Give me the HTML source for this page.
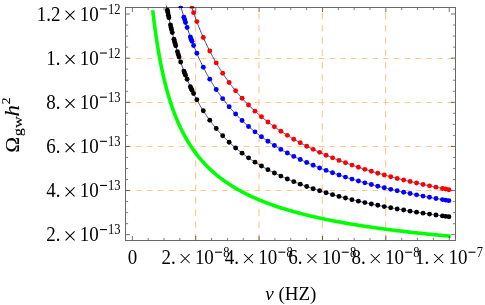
<!DOCTYPE html>
<html><head><meta charset="utf-8"><title>plot</title>
<style>
html,body{margin:0;padding:0;background:#fff;}
body{width:485px;height:305px;overflow:hidden;}
svg{display:block;filter:blur(0.35px);}
text{font-family:"Liberation Serif",serif;fill:#000;}
</style></head><body>
<svg width="485" height="305" viewBox="0 0 485 305">
<rect x="0" y="0" width="485" height="305" fill="#fff"/>
<defs><clipPath id="cp"><rect x="125.50" y="7.50" width="330.00" height="233.00"/></clipPath></defs>
<g stroke="#ffc890" stroke-width="1.15" fill="none">
<line x1="195.60" y1="240.50" x2="195.60" y2="7.50" stroke-dasharray="6.6 5.69"/>
<line x1="259.00" y1="240.50" x2="259.00" y2="7.50" stroke-dasharray="6.6 5.69"/>
<line x1="322.30" y1="240.50" x2="322.30" y2="7.50" stroke-dasharray="6.6 5.69"/>
<line x1="385.60" y1="240.50" x2="385.60" y2="7.50" stroke-dasharray="6.6 5.69"/>
<line x1="125.50" y1="190.50" x2="455.50" y2="190.50" stroke-dasharray="5.5 5.24"/>
<line x1="125.50" y1="146.50" x2="455.50" y2="146.50" stroke-dasharray="5.5 5.24"/>
<line x1="125.50" y1="102.50" x2="455.50" y2="102.50" stroke-dasharray="5.5 5.24"/>
<line x1="125.50" y1="58.50" x2="455.50" y2="58.50" stroke-dasharray="5.5 5.24"/>
</g>
<defs><clipPath id="cpg"><rect x="125.50" y="10.3" width="330.00" height="230.20"/></clipPath></defs>
<g clip-path="url(#cpg)">
<path d="M152.14 5.17 L152.88 11.80 L153.62 18.05 L154.37 23.94 L155.11 29.51 L155.85 34.79 L156.59 39.80 L157.33 44.56 L158.08 49.09 L158.82 53.41 L159.56 57.53 L160.30 61.47 L161.04 65.24 L161.79 68.86 L162.53 72.32 L163.27 75.64 L164.01 78.84 L164.75 81.91 L165.49 84.87 L166.24 87.71 L166.98 90.46 L167.72 93.11 L168.46 95.67 L169.20 98.15 L169.95 100.54 L170.69 102.85 L171.43 105.09 L172.17 107.27 L172.91 109.37 L173.66 111.41 L174.40 113.40 L175.14 115.32 L175.88 117.19 L176.62 119.01 L177.37 120.78 L178.11 122.50 L178.85 124.17 L179.59 125.80 L180.33 127.39 L181.07 128.93 L181.82 130.44 L182.56 131.91 L183.30 133.35 L184.04 134.75 L184.78 136.12 L185.53 137.46 L186.27 138.76 L187.01 140.04 L187.75 141.28 L188.49 142.50 L189.24 143.70 L189.98 144.87 L190.72 146.01 L191.46 147.13 L192.20 148.22 L192.94 149.30 L193.69 150.35 L194.43 151.38 L195.17 152.39 L195.91 153.38 L196.65 154.35 L197.40 155.30 L198.14 156.24 L198.88 157.16 L199.62 158.06 L200.36 158.94 L201.11 159.81 L201.85 160.66 L202.59 161.50 L203.33 162.32 L204.07 163.13 L204.82 163.93 L205.56 164.71 L206.30 165.48 L207.04 166.23 L207.78 166.98 L208.52 167.71 L209.27 168.43 L210.01 169.13 L210.75 169.83 L211.49 170.52 L212.23 171.19 L212.98 171.86 L213.72 172.51 L214.46 173.16 L215.20 173.79 L215.94 174.42 L216.69 175.03 L217.43 175.64 L218.17 176.24 L218.91 176.83 L219.65 177.41 L220.40 177.99 L221.14 178.55 L221.88 179.11 L222.62 179.66 L223.36 180.20 L224.10 180.74 L224.85 181.27 L225.59 181.79 L226.33 182.30 L227.07 182.81 L227.81 183.31 L228.56 183.80 L229.30 184.29 L230.04 184.77 L230.78 185.25 L231.52 185.72 L232.27 186.18 L233.01 186.64 L233.75 187.09 L234.49 187.54 L235.23 187.98 L235.98 188.42 L236.72 188.85 L237.46 189.28 L238.20 189.70 L238.94 190.12 L239.68 190.53 L240.43 190.93 L241.17 191.34 L241.91 191.73 L242.65 192.13 L243.39 192.52 L244.14 192.90 L244.88 193.28 L245.62 193.66 L246.36 194.03 L247.10 194.40 L247.85 194.76 L248.59 195.12 L249.33 195.48 L250.07 195.83 L250.81 196.18 L251.55 196.53 L252.30 196.87 L253.04 197.21 L253.78 197.54 L254.52 197.87 L255.26 198.20 L256.01 198.52 L256.75 198.85 L257.49 199.16 L258.23 199.48 L258.97 199.79 L259.72 200.10 L260.46 200.41 L261.20 200.71 L261.94 201.01 L262.68 201.31 L263.43 201.60 L264.17 201.89 L264.91 202.18 L265.65 202.47 L266.39 202.75 L267.13 203.03 L267.88 203.31 L268.62 203.59 L269.36 203.86 L270.10 204.13 L270.84 204.40 L271.59 204.67 L272.33 204.93 L273.07 205.19 L273.81 205.45 L274.55 205.71 L275.30 205.96 L276.04 206.22 L276.78 206.47 L277.52 206.72 L278.26 206.96 L279.01 207.21 L279.75 207.45 L280.49 207.69 L281.23 207.93 L281.97 208.16 L282.71 208.40 L283.46 208.63 L284.20 208.86 L284.94 209.09 L285.68 209.31 L286.42 209.54 L287.17 209.76 L287.91 209.98 L288.65 210.20 L289.39 210.42 L290.13 210.64 L290.88 210.85 L291.62 211.06 L292.36 211.27 L293.10 211.48 L293.84 211.69 L294.59 211.90 L295.33 212.10 L296.07 212.30 L296.81 212.51 L297.55 212.71 L298.29 212.90 L299.04 213.10 L299.78 213.30 L300.52 213.49 L301.26 213.68 L302.00 213.87 L302.75 214.06 L303.49 214.25 L304.23 214.44 L304.97 214.63 L305.71 214.81 L306.46 214.99 L307.20 215.18 L307.94 215.36 L308.68 215.54 L309.42 215.71 L310.16 215.89 L310.91 216.07 L311.65 216.24 L312.39 216.41 L313.13 216.59 L313.87 216.76 L314.62 216.93 L315.36 217.09 L316.10 217.26 L316.84 217.43 L317.58 217.59 L318.33 217.76 L319.07 217.92 L319.81 218.08 L320.55 218.24 L321.29 218.40 L322.04 218.56 L322.78 218.72 L323.52 218.88 L324.26 219.03 L325.00 219.19 L325.74 219.34 L326.49 219.49 L327.23 219.64 L327.97 219.79 L328.71 219.94 L329.45 220.09 L330.20 220.24 L330.94 220.39 L331.68 220.53 L332.42 220.68 L333.16 220.82 L333.91 220.97 L334.65 221.11 L335.39 221.25 L336.13 221.39 L336.87 221.53 L337.62 221.67 L338.36 221.81 L339.10 221.95 L339.84 222.08 L340.58 222.22 L341.32 222.35 L342.07 222.49 L342.81 222.62 L343.55 222.75 L344.29 222.89 L345.03 223.02 L345.78 223.15 L346.52 223.28 L347.26 223.40 L348.00 223.53 L348.74 223.66 L349.49 223.79 L350.23 223.91 L350.97 224.04 L351.71 224.16 L352.45 224.29 L353.20 224.41 L353.94 224.53 L354.68 224.65 L355.42 224.77 L356.16 224.89 L356.90 225.01 L357.65 225.13 L358.39 225.25 L359.13 225.37 L359.87 225.49 L360.61 225.60 L361.36 225.72 L362.10 225.83 L362.84 225.95 L363.58 226.06 L364.32 226.17 L365.07 226.29 L365.81 226.40 L366.55 226.51 L367.29 226.62 L368.03 226.73 L368.77 226.84 L369.52 226.95 L370.26 227.06 L371.00 227.17 L371.74 227.28 L372.48 227.38 L373.23 227.49 L373.97 227.59 L374.71 227.70 L375.45 227.80 L376.19 227.91 L376.94 228.01 L377.68 228.12 L378.42 228.22 L379.16 228.32 L379.90 228.42 L380.65 228.52 L381.39 228.62 L382.13 228.72 L382.87 228.82 L383.61 228.92 L384.35 229.02 L385.10 229.12 L385.84 229.22 L386.58 229.31 L387.32 229.41 L388.06 229.51 L388.81 229.60 L389.55 229.70 L390.29 229.79 L391.03 229.89 L391.77 229.98 L392.52 230.08 L393.26 230.17 L394.00 230.26 L394.74 230.35 L395.48 230.45 L396.23 230.54 L396.97 230.63 L397.71 230.72 L398.45 230.81 L399.19 230.90 L399.93 230.99 L400.68 231.08 L401.42 231.16 L402.16 231.25 L402.90 231.34 L403.64 231.43 L404.39 231.51 L405.13 231.60 L405.87 231.69 L406.61 231.77 L407.35 231.86 L408.10 231.94 L408.84 232.03 L409.58 232.11 L410.32 232.19 L411.06 232.28 L411.81 232.36 L412.55 232.44 L413.29 232.53 L414.03 232.61 L414.77 232.69 L415.51 232.77 L416.26 232.85 L417.00 232.93 L417.74 233.01 L418.48 233.09 L419.22 233.17 L419.97 233.25 L420.71 233.33 L421.45 233.41 L422.19 233.49 L422.93 233.56 L423.68 233.64 L424.42 233.72 L425.16 233.79 L425.90 233.87 L426.64 233.95 L427.38 234.02 L428.13 234.10 L428.87 234.17 L429.61 234.25 L430.35 234.32 L431.09 234.40 L431.84 234.47 L432.58 234.54 L433.32 234.62 L434.06 234.69 L434.80 234.76 L435.55 234.84 L436.29 234.91 L437.03 234.98 L437.77 235.05 L438.51 235.12 L439.26 235.19 L440.00 235.26 L440.74 235.33 L441.48 235.40 L442.22 235.47 L442.96 235.54 L443.71 235.61 L444.45 235.68 L445.19 235.75 L445.93 235.82 L446.67 235.89 L447.42 235.96 L448.16 236.02 L448.90 236.09" fill="none" stroke="#00ff00" stroke-width="3.6" stroke-linecap="square"/>
</g>
<defs><clipPath id="cp2"><rect x="125.50" y="5.80" width="330.00" height="234.70"/></clipPath></defs>
<g clip-path="url(#cp2)">
<path d="M166.18 3.96 L166.88 7.71 L167.59 11.33 L168.30 14.84 L169.00 18.23 L169.71 21.51 L170.42 24.70 L171.12 27.78 L171.83 30.78 L172.54 33.68 L173.24 36.50 L173.95 39.25 L174.66 41.91 L175.36 44.51 L176.07 47.03 L176.78 49.49 L177.48 51.88 L178.19 54.21 L178.90 56.48 L179.61 58.70 L180.31 60.86 L181.02 62.97 L181.73 65.03 L182.43 67.04 L183.14 69.00 L183.85 70.92 L184.55 72.80 L185.26 74.63 L185.97 76.43 L186.67 78.18 L187.38 79.90 L188.09 81.58 L188.79 83.22 L189.50 84.84 L190.21 86.42 L190.91 87.96 L191.62 89.48 L192.33 90.97 L193.03 92.42 L193.74 93.85 L194.45 95.26 L195.16 96.63 L195.86 97.99 L196.57 99.31 L197.28 100.61 L197.98 101.89 L198.69 103.15 L199.40 104.38 L200.10 105.60 L200.81 106.79 L201.52 107.96 L202.22 109.11 L202.93 110.24 L203.64 111.36 L204.34 112.45 L205.05 113.53 L205.76 114.59 L206.46 115.64 L207.17 116.66 L207.88 117.67 L208.58 118.67 L209.29 119.65 L210.00 120.62 L210.70 121.57 L211.41 122.50 L212.12 123.43 L212.83 124.34 L213.53 125.23 L214.24 126.12 L214.95 126.99 L215.65 127.85 L216.36 128.69 L217.07 129.53 L217.77 130.35 L218.48 131.16 L219.19 131.96 L219.89 132.76 L220.60 133.53 L221.31 134.30 L222.01 135.06 L222.72 135.81 L223.43 136.55 L224.13 137.28 L224.84 138.00 L225.55 138.72 L226.25 139.42 L226.96 140.11 L227.67 140.80 L228.38 141.48 L229.08 142.14 L229.79 142.81 L230.50 143.46 L231.20 144.10 L231.91 144.74 L232.62 145.37 L233.32 145.99 L234.03 146.61 L234.74 147.22 L235.44 147.82 L236.15 148.41 L236.86 149.00 L237.56 149.58 L238.27 150.16 L238.98 150.73 L239.68 151.29 L240.39 151.84 L241.10 152.39 L241.80 152.94 L242.51 153.48 L243.22 154.01 L243.92 154.54 L244.63 155.06 L245.34 155.57 L246.05 156.08 L246.75 156.59 L247.46 157.09 L248.17 157.59 L248.87 158.08 L249.58 158.56 L250.29 159.04 L250.99 159.52 L251.70 159.99 L252.41 160.45 L253.11 160.92 L253.82 161.37 L254.53 161.83 L255.23 162.28 L255.94 162.72 L256.65 163.16 L257.35 163.60 L258.06 164.03 L258.77 164.46 L259.47 164.88 L260.18 165.30 L260.89 165.72 L261.60 166.13 L262.30 166.54 L263.01 166.94 L263.72 167.34 L264.42 167.74 L265.13 168.13 L265.84 168.53 L266.54 168.91 L267.25 169.30 L267.96 169.68 L268.66 170.05 L269.37 170.43 L270.08 170.80 L270.78 171.17 L271.49 171.53 L272.20 171.89 L272.90 172.25 L273.61 172.61 L274.32 172.96 L275.02 173.31 L275.73 173.66 L276.44 174.00 L277.15 174.34 L277.85 174.68 L278.56 175.01 L279.27 175.35 L279.97 175.68 L280.68 176.01 L281.39 176.33 L282.09 176.65 L282.80 176.97 L283.51 177.29 L284.21 177.61 L284.92 177.92 L285.63 178.23 L286.33 178.54 L287.04 178.84 L287.75 179.14 L288.45 179.45 L289.16 179.74 L289.87 180.04 L290.57 180.33 L291.28 180.63 L291.99 180.92 L292.69 181.20 L293.40 181.49 L294.11 181.77 L294.82 182.05 L295.52 182.33 L296.23 182.61 L296.94 182.89 L297.64 183.16 L298.35 183.43 L299.06 183.70 L299.76 183.97 L300.47 184.24 L301.18 184.50 L301.88 184.76 L302.59 185.02 L303.30 185.28 L304.00 185.54 L304.71 185.79 L305.42 186.05 L306.12 186.30 L306.83 186.55 L307.54 186.80 L308.24 187.04 L308.95 187.29 L309.66 187.53 L310.37 187.77 L311.07 188.01 L311.78 188.25 L312.49 188.49 L313.19 188.72 L313.90 188.96 L314.61 189.19 L315.31 189.42 L316.02 189.65 L316.73 189.88 L317.43 190.10 L318.14 190.33 L318.85 190.55 L319.55 190.77 L320.26 190.99 L320.97 191.21 L321.67 191.43 L322.38 191.65 L323.09 191.86 L323.79 192.08 L324.50 192.29 L325.21 192.50 L325.91 192.71 L326.62 192.92 L327.33 193.13 L328.04 193.34 L328.74 193.54 L329.45 193.74 L330.16 193.95 L330.86 194.15 L331.57 194.35 L332.28 194.55 L332.98 194.75 L333.69 194.94 L334.40 195.14 L335.10 195.33 L335.81 195.53 L336.52 195.72 L337.22 195.91 L337.93 196.10 L338.64 196.29 L339.34 196.48 L340.05 196.66 L340.76 196.85 L341.46 197.03 L342.17 197.22 L342.88 197.40 L343.59 197.58 L344.29 197.76 L345.00 197.94 L345.71 198.12 L346.41 198.30 L347.12 198.48 L347.83 198.65 L348.53 198.83 L349.24 199.00 L349.95 199.17 L350.65 199.34 L351.36 199.52 L352.07 199.69 L352.77 199.85 L353.48 200.02 L354.19 200.19 L354.89 200.36 L355.60 200.52 L356.31 200.69 L357.01 200.85 L357.72 201.01 L358.43 201.18 L359.14 201.34 L359.84 201.50 L360.55 201.66 L361.26 201.82 L361.96 201.97 L362.67 202.13 L363.38 202.29 L364.08 202.44 L364.79 202.60 L365.50 202.75 L366.20 202.91 L366.91 203.06 L367.62 203.21 L368.32 203.36 L369.03 203.51 L369.74 203.66 L370.44 203.81 L371.15 203.96 L371.86 204.11 L372.56 204.25 L373.27 204.40 L373.98 204.54 L374.68 204.69 L375.39 204.83 L376.10 204.97 L376.81 205.12 L377.51 205.26 L378.22 205.40 L378.93 205.54 L379.63 205.68 L380.34 205.82 L381.05 205.96 L381.75 206.09 L382.46 206.23 L383.17 206.37 L383.87 206.50 L384.58 206.64 L385.29 206.77 L385.99 206.91 L386.70 207.04 L387.41 207.17 L388.11 207.30 L388.82 207.44 L389.53 207.57 L390.23 207.70 L390.94 207.83 L391.65 207.96 L392.36 208.08 L393.06 208.21 L393.77 208.34 L394.48 208.47 L395.18 208.59 L395.89 208.72 L396.60 208.84 L397.30 208.97 L398.01 209.09 L398.72 209.21 L399.42 209.34 L400.13 209.46 L400.84 209.58 L401.54 209.70 L402.25 209.82 L402.96 209.94 L403.66 210.06 L404.37 210.18 L405.08 210.30 L405.78 210.42 L406.49 210.54 L407.20 210.65 L407.90 210.77 L408.61 210.89 L409.32 211.00 L410.03 211.12 L410.73 211.23 L411.44 211.35 L412.15 211.46 L412.85 211.57 L413.56 211.69 L414.27 211.80 L414.97 211.91 L415.68 212.02 L416.39 212.13 L417.09 212.24 L417.80 212.35 L418.51 212.46 L419.21 212.57 L419.92 212.68 L420.63 212.79 L421.33 212.89 L422.04 213.00 L422.75 213.11 L423.45 213.22 L424.16 213.32 L424.87 213.43 L425.58 213.53 L426.28 213.64 L426.99 213.74 L427.70 213.84 L428.40 213.95 L429.11 214.05 L429.82 214.15 L430.52 214.26 L431.23 214.36 L431.94 214.46 L432.64 214.56 L433.35 214.66 L434.06 214.76 L434.76 214.86 L435.47 214.96 L436.18 215.06 L436.88 215.16 L437.59 215.26 L438.30 215.35 L439.00 215.45 L439.71 215.55 L440.42 215.65 L441.13 215.74 L441.83 215.84 L442.54 215.93 L443.25 216.03 L443.95 216.12 L444.66 216.22 L445.37 216.31 L446.07 216.41 L446.78 216.50 L447.49 216.59 L448.19 216.69 L448.90 216.78" fill="none" stroke="#3d3d99" stroke-width="1"/>
<g fill="#000000"><circle cx="167.36" cy="10.17" r="2.45"/><circle cx="167.81" cy="12.45" r="2.45"/><circle cx="168.36" cy="15.16" r="2.45"/><circle cx="168.91" cy="17.79" r="2.45"/><circle cx="170.46" cy="24.90" r="2.45"/><circle cx="171.04" cy="27.44" r="2.45"/><circle cx="171.56" cy="29.65" r="2.45"/><circle cx="172.27" cy="32.60" r="2.45"/><circle cx="173.95" cy="39.25" r="2.45"/><circle cx="174.53" cy="41.45" r="2.45"/><circle cx="175.12" cy="43.60" r="2.45"/><circle cx="175.70" cy="45.71" r="2.45"/><circle cx="177.44" cy="51.74" r="2.45"/><circle cx="178.25" cy="54.40" r="2.45"/><circle cx="179.06" cy="56.99" r="2.45"/><circle cx="180.67" cy="61.95" r="2.45"/><circle cx="183.91" cy="71.08" r="2.45"/><circle cx="184.71" cy="73.22" r="2.45"/><circle cx="185.52" cy="75.30" r="2.45"/><circle cx="187.14" cy="79.31" r="2.45"/><circle cx="190.37" cy="86.77" r="2.45"/><circle cx="191.18" cy="88.53" r="2.45"/><circle cx="191.99" cy="90.25" r="2.45"/><circle cx="193.60" cy="93.57" r="2.45"/><circle cx="196.83" cy="99.80" r="2.45"/><circle cx="203.30" cy="110.82" r="2.45"/><circle cx="209.76" cy="120.29" r="2.45"/><circle cx="216.22" cy="128.53" r="2.45"/><circle cx="222.69" cy="135.78" r="2.45"/><circle cx="229.15" cy="142.21" r="2.45"/><circle cx="235.61" cy="147.96" r="2.45"/><circle cx="242.08" cy="153.15" r="2.45"/><circle cx="248.54" cy="157.85" r="2.45"/><circle cx="255.00" cy="162.13" r="2.45"/><circle cx="261.47" cy="166.05" r="2.45"/><circle cx="267.93" cy="169.66" r="2.45"/><circle cx="274.39" cy="173.00" r="2.45"/><circle cx="280.86" cy="176.09" r="2.45"/><circle cx="287.32" cy="178.96" r="2.45"/><circle cx="293.78" cy="181.64" r="2.45"/><circle cx="300.24" cy="184.15" r="2.45"/><circle cx="306.71" cy="186.50" r="2.45"/><circle cx="313.17" cy="188.72" r="2.45"/><circle cx="319.63" cy="190.80" r="2.45"/><circle cx="326.10" cy="192.77" r="2.45"/><circle cx="332.56" cy="194.63" r="2.45"/><circle cx="339.02" cy="196.39" r="2.45"/><circle cx="345.49" cy="198.07" r="2.45"/><circle cx="351.95" cy="199.66" r="2.45"/><circle cx="358.41" cy="201.17" r="2.45"/><circle cx="364.88" cy="202.62" r="2.45"/><circle cx="371.34" cy="204.00" r="2.45"/><circle cx="377.80" cy="205.32" r="2.45"/><circle cx="384.27" cy="206.58" r="2.45"/><circle cx="390.73" cy="207.79" r="2.45"/><circle cx="397.19" cy="208.95" r="2.45"/><circle cx="403.66" cy="210.06" r="2.45"/><circle cx="410.12" cy="211.13" r="2.45"/><circle cx="416.58" cy="212.16" r="2.45"/><circle cx="423.05" cy="213.15" r="2.45"/><circle cx="429.51" cy="214.11" r="2.45"/><circle cx="435.97" cy="215.03" r="2.45"/><circle cx="442.44" cy="215.92" r="2.45"/><circle cx="445.67" cy="216.35" r="2.45"/><circle cx="448.90" cy="216.78" r="2.45"/></g>
<path d="M180.23 3.96 L180.90 6.50 L181.57 8.97 L182.25 11.39 L182.92 13.76 L183.59 16.07 L184.26 18.34 L184.93 20.56 L185.60 22.73 L186.28 24.85 L186.95 26.93 L187.62 28.97 L188.29 30.97 L188.96 32.93 L189.63 34.85 L190.31 36.74 L190.98 38.58 L191.65 40.40 L192.32 42.18 L192.99 43.92 L193.66 45.64 L194.34 47.32 L195.01 48.97 L195.68 50.60 L196.35 52.19 L197.02 53.76 L197.69 55.30 L198.37 56.82 L199.04 58.31 L199.71 59.77 L200.38 61.22 L201.05 62.63 L201.72 64.03 L202.40 65.40 L203.07 66.75 L203.74 68.08 L204.41 69.39 L205.08 70.68 L205.75 71.95 L206.43 73.20 L207.10 74.43 L207.77 75.64 L208.44 76.84 L209.11 78.02 L209.78 79.18 L210.46 80.32 L211.13 81.45 L211.80 82.56 L212.47 83.66 L213.14 84.74 L213.81 85.80 L214.49 86.86 L215.16 87.89 L215.83 88.92 L216.50 89.93 L217.17 90.92 L217.84 91.91 L218.52 92.88 L219.19 93.84 L219.86 94.78 L220.53 95.72 L221.20 96.64 L221.87 97.55 L222.55 98.45 L223.22 99.34 L223.89 100.22 L224.56 101.08 L225.23 101.94 L225.90 102.79 L226.58 103.62 L227.25 104.45 L227.92 105.27 L228.59 106.07 L229.26 106.87 L229.93 107.66 L230.61 108.44 L231.28 109.21 L231.95 109.97 L232.62 110.73 L233.29 111.47 L233.96 112.21 L234.64 112.94 L235.31 113.66 L235.98 114.37 L236.65 115.08 L237.32 115.78 L237.99 116.47 L238.67 117.15 L239.34 117.83 L240.01 118.50 L240.68 119.16 L241.35 119.82 L242.02 120.47 L242.70 121.11 L243.37 121.74 L244.04 122.37 L244.71 123.00 L245.38 123.61 L246.05 124.23 L246.73 124.83 L247.40 125.43 L248.07 126.02 L248.74 126.61 L249.41 127.19 L250.08 127.77 L250.76 128.34 L251.43 128.91 L252.10 129.47 L252.77 130.02 L253.44 130.57 L254.11 131.12 L254.79 131.66 L255.46 132.19 L256.13 132.72 L256.80 133.25 L257.47 133.77 L258.14 134.29 L258.82 134.80 L259.49 135.31 L260.16 135.81 L260.83 136.31 L261.50 136.80 L262.17 137.29 L262.85 137.78 L263.52 138.26 L264.19 138.73 L264.86 139.21 L265.53 139.68 L266.20 140.14 L266.88 140.60 L267.55 141.06 L268.22 141.52 L268.89 141.97 L269.56 142.41 L270.24 142.86 L270.91 143.29 L271.58 143.73 L272.25 144.16 L272.92 144.59 L273.59 145.02 L274.27 145.44 L274.94 145.86 L275.61 146.27 L276.28 146.69 L276.95 147.10 L277.62 147.50 L278.30 147.90 L278.97 148.30 L279.64 148.70 L280.31 149.09 L280.98 149.49 L281.65 149.87 L282.33 150.26 L283.00 150.64 L283.67 151.02 L284.34 151.40 L285.01 151.77 L285.68 152.14 L286.36 152.51 L287.03 152.87 L287.70 153.24 L288.37 153.60 L289.04 153.96 L289.71 154.31 L290.39 154.66 L291.06 155.01 L291.73 155.36 L292.40 155.71 L293.07 156.05 L293.74 156.39 L294.42 156.73 L295.09 157.06 L295.76 157.40 L296.43 157.73 L297.10 158.06 L297.77 158.39 L298.45 158.71 L299.12 159.03 L299.79 159.35 L300.46 159.67 L301.13 159.99 L301.80 160.30 L302.48 160.61 L303.15 160.92 L303.82 161.23 L304.49 161.54 L305.16 161.84 L305.83 162.14 L306.51 162.44 L307.18 162.74 L307.85 163.04 L308.52 163.33 L309.19 163.62 L309.86 163.91 L310.54 164.20 L311.21 164.49 L311.88 164.78 L312.55 165.06 L313.22 165.34 L313.89 165.62 L314.57 165.90 L315.24 166.17 L315.91 166.45 L316.58 166.72 L317.25 166.99 L317.92 167.26 L318.60 167.53 L319.27 167.80 L319.94 168.06 L320.61 168.33 L321.28 168.59 L321.95 168.85 L322.63 169.11 L323.30 169.37 L323.97 169.62 L324.64 169.88 L325.31 170.13 L325.98 170.38 L326.66 170.63 L327.33 170.88 L328.00 171.13 L328.67 171.37 L329.34 171.61 L330.01 171.86 L330.69 172.10 L331.36 172.34 L332.03 172.58 L332.70 172.82 L333.37 173.05 L334.04 173.29 L334.72 173.52 L335.39 173.75 L336.06 173.98 L336.73 174.21 L337.40 174.44 L338.07 174.67 L338.75 174.89 L339.42 175.12 L340.09 175.34 L340.76 175.57 L341.43 175.79 L342.10 176.01 L342.78 176.23 L343.45 176.44 L344.12 176.66 L344.79 176.87 L345.46 177.09 L346.13 177.30 L346.81 177.51 L347.48 177.72 L348.15 177.93 L348.82 178.14 L349.49 178.35 L350.16 178.56 L350.84 178.76 L351.51 178.97 L352.18 179.17 L352.85 179.37 L353.52 179.57 L354.19 179.77 L354.87 179.97 L355.54 180.17 L356.21 180.37 L356.88 180.57 L357.55 180.76 L358.22 180.96 L358.90 181.15 L359.57 181.34 L360.24 181.53 L360.91 181.72 L361.58 181.91 L362.25 182.10 L362.93 182.29 L363.60 182.48 L364.27 182.66 L364.94 182.85 L365.61 183.03 L366.28 183.22 L366.96 183.40 L367.63 183.58 L368.30 183.76 L368.97 183.94 L369.64 184.12 L370.31 184.30 L370.99 184.48 L371.66 184.65 L372.33 184.83 L373.00 185.00 L373.67 185.18 L374.34 185.35 L375.02 185.52 L375.69 185.69 L376.36 185.86 L377.03 186.03 L377.70 186.20 L378.37 186.37 L379.05 186.54 L379.72 186.71 L380.39 186.87 L381.06 187.04 L381.73 187.20 L382.40 187.37 L383.08 187.53 L383.75 187.69 L384.42 187.86 L385.09 188.02 L385.76 188.18 L386.43 188.34 L387.11 188.50 L387.78 188.66 L388.45 188.81 L389.12 188.97 L389.79 189.13 L390.46 189.28 L391.14 189.44 L391.81 189.59 L392.48 189.74 L393.15 189.90 L393.82 190.05 L394.49 190.20 L395.17 190.35 L395.84 190.50 L396.51 190.65 L397.18 190.80 L397.85 190.95 L398.52 191.10 L399.20 191.24 L399.87 191.39 L400.54 191.54 L401.21 191.68 L401.88 191.83 L402.55 191.97 L403.23 192.12 L403.90 192.26 L404.57 192.40 L405.24 192.54 L405.91 192.68 L406.58 192.82 L407.26 192.96 L407.93 193.10 L408.60 193.24 L409.27 193.38 L409.94 193.52 L410.61 193.66 L411.29 193.79 L411.96 193.93 L412.63 194.07 L413.30 194.20 L413.97 194.33 L414.64 194.47 L415.32 194.60 L415.99 194.74 L416.66 194.87 L417.33 195.00 L418.00 195.13 L418.67 195.26 L419.35 195.39 L420.02 195.52 L420.69 195.65 L421.36 195.78 L422.03 195.91 L422.70 196.04 L423.38 196.16 L424.05 196.29 L424.72 196.42 L425.39 196.54 L426.06 196.67 L426.73 196.79 L427.41 196.92 L428.08 197.04 L428.75 197.17 L429.42 197.29 L430.09 197.41 L430.76 197.53 L431.44 197.66 L432.11 197.78 L432.78 197.90 L433.45 198.02 L434.12 198.14 L434.79 198.26 L435.47 198.38 L436.14 198.49 L436.81 198.61 L437.48 198.73 L438.15 198.85 L438.82 198.96 L439.50 199.08 L440.17 199.20 L440.84 199.31 L441.51 199.43 L442.18 199.54 L442.85 199.66 L443.53 199.77 L444.20 199.88 L444.87 200.00 L445.54 200.11 L446.21 200.22 L446.88 200.33 L447.56 200.45 L448.23 200.56 L448.90 200.67" fill="none" stroke="#3d3d99" stroke-width="1"/>
<g fill="#0000ff"><circle cx="183.91" cy="17.15" r="2.45"/><circle cx="184.71" cy="19.84" r="2.45"/><circle cx="185.52" cy="22.46" r="2.45"/><circle cx="187.14" cy="27.52" r="2.45"/><circle cx="190.37" cy="36.91" r="2.45"/><circle cx="191.18" cy="39.13" r="2.45"/><circle cx="191.99" cy="41.29" r="2.45"/><circle cx="193.60" cy="45.48" r="2.45"/><circle cx="196.83" cy="53.32" r="2.45"/><circle cx="203.30" cy="67.21" r="2.45"/><circle cx="209.76" cy="79.13" r="2.45"/><circle cx="216.22" cy="89.51" r="2.45"/><circle cx="222.69" cy="98.64" r="2.45"/><circle cx="229.15" cy="106.74" r="2.45"/><circle cx="235.61" cy="113.99" r="2.45"/><circle cx="242.08" cy="120.52" r="2.45"/><circle cx="248.54" cy="126.43" r="2.45"/><circle cx="255.00" cy="131.83" r="2.45"/><circle cx="261.47" cy="136.77" r="2.45"/><circle cx="267.93" cy="141.32" r="2.45"/><circle cx="274.39" cy="145.52" r="2.45"/><circle cx="280.86" cy="149.41" r="2.45"/><circle cx="287.32" cy="153.03" r="2.45"/><circle cx="293.78" cy="156.41" r="2.45"/><circle cx="300.24" cy="159.57" r="2.45"/><circle cx="306.71" cy="162.53" r="2.45"/><circle cx="313.17" cy="165.32" r="2.45"/><circle cx="319.63" cy="167.94" r="2.45"/><circle cx="326.10" cy="170.42" r="2.45"/><circle cx="332.56" cy="172.77" r="2.45"/><circle cx="339.02" cy="174.99" r="2.45"/><circle cx="345.49" cy="177.10" r="2.45"/><circle cx="351.95" cy="179.10" r="2.45"/><circle cx="358.41" cy="181.01" r="2.45"/><circle cx="364.88" cy="182.83" r="2.45"/><circle cx="371.34" cy="184.57" r="2.45"/><circle cx="377.80" cy="186.23" r="2.45"/><circle cx="384.27" cy="187.82" r="2.45"/><circle cx="390.73" cy="189.34" r="2.45"/><circle cx="397.19" cy="190.80" r="2.45"/><circle cx="403.66" cy="192.21" r="2.45"/><circle cx="410.12" cy="193.56" r="2.45"/><circle cx="416.58" cy="194.85" r="2.45"/><circle cx="423.05" cy="196.10" r="2.45"/><circle cx="429.51" cy="197.31" r="2.45"/><circle cx="435.97" cy="198.47" r="2.45"/><circle cx="442.44" cy="199.59" r="2.45"/><circle cx="445.67" cy="200.13" r="2.45"/><circle cx="448.90" cy="200.67" r="2.45"/><path d="M178.25 7.90 A2.45 2.45 0 1 1 183.15 7.90 Z"/></g>
<path d="M190.71 3.96 L191.35 5.97 L192.00 7.93 L192.64 9.87 L193.29 11.76 L193.94 13.63 L194.58 15.46 L195.23 17.26 L195.87 19.03 L196.52 20.78 L197.16 22.49 L197.81 24.17 L198.45 25.83 L199.10 27.46 L199.75 29.06 L200.39 30.64 L201.04 32.20 L201.68 33.73 L202.33 35.23 L202.97 36.72 L203.62 38.18 L204.26 39.62 L204.91 41.03 L205.55 42.43 L206.20 43.81 L206.85 45.16 L207.49 46.50 L208.14 47.82 L208.78 49.12 L209.43 50.40 L210.07 51.67 L210.72 52.91 L211.36 54.14 L212.01 55.36 L212.65 56.55 L213.30 57.73 L213.95 58.90 L214.59 60.05 L215.24 61.18 L215.88 62.31 L216.53 63.41 L217.17 64.50 L217.82 65.58 L218.46 66.65 L219.11 67.70 L219.76 68.74 L220.40 69.77 L221.05 70.78 L221.69 71.78 L222.34 72.77 L222.98 73.75 L223.63 74.71 L224.27 75.67 L224.92 76.61 L225.56 77.55 L226.21 78.47 L226.86 79.38 L227.50 80.28 L228.15 81.17 L228.79 82.06 L229.44 82.93 L230.08 83.79 L230.73 84.64 L231.37 85.49 L232.02 86.32 L232.66 87.15 L233.31 87.96 L233.96 88.77 L234.60 89.57 L235.25 90.36 L235.89 91.15 L236.54 91.92 L237.18 92.69 L237.83 93.45 L238.47 94.20 L239.12 94.94 L239.76 95.68 L240.41 96.41 L241.06 97.13 L241.70 97.84 L242.35 98.55 L242.99 99.25 L243.64 99.95 L244.28 100.63 L244.93 101.32 L245.57 101.99 L246.22 102.66 L246.87 103.32 L247.51 103.98 L248.16 104.62 L248.80 105.27 L249.45 105.91 L250.09 106.54 L250.74 107.16 L251.38 107.78 L252.03 108.40 L252.67 109.01 L253.32 109.61 L253.97 110.21 L254.61 110.80 L255.26 111.39 L255.90 111.98 L256.55 112.55 L257.19 113.13 L257.84 113.69 L258.48 114.26 L259.13 114.82 L259.77 115.37 L260.42 115.92 L261.07 116.46 L261.71 117.00 L262.36 117.54 L263.00 118.07 L263.65 118.60 L264.29 119.12 L264.94 119.64 L265.58 120.15 L266.23 120.66 L266.88 121.17 L267.52 121.67 L268.17 122.17 L268.81 122.66 L269.46 123.15 L270.10 123.64 L270.75 124.12 L271.39 124.60 L272.04 125.07 L272.68 125.54 L273.33 126.01 L273.98 126.48 L274.62 126.94 L275.27 127.39 L275.91 127.85 L276.56 128.30 L277.20 128.75 L277.85 129.19 L278.49 129.63 L279.14 130.07 L279.78 130.50 L280.43 130.93 L281.08 131.36 L281.72 131.78 L282.37 132.21 L283.01 132.63 L283.66 133.04 L284.30 133.45 L284.95 133.86 L285.59 134.27 L286.24 134.67 L286.88 135.08 L287.53 135.47 L288.18 135.87 L288.82 136.26 L289.47 136.65 L290.11 137.04 L290.76 137.43 L291.40 137.81 L292.05 138.19 L292.69 138.57 L293.34 138.94 L293.99 139.31 L294.63 139.68 L295.28 140.05 L295.92 140.42 L296.57 140.78 L297.21 141.14 L297.86 141.50 L298.50 141.85 L299.15 142.21 L299.79 142.56 L300.44 142.91 L301.09 143.25 L301.73 143.60 L302.38 143.94 L303.02 144.28 L303.67 144.62 L304.31 144.95 L304.96 145.29 L305.60 145.62 L306.25 145.95 L306.89 146.27 L307.54 146.60 L308.19 146.92 L308.83 147.25 L309.48 147.57 L310.12 147.88 L310.77 148.20 L311.41 148.51 L312.06 148.82 L312.70 149.13 L313.35 149.44 L313.99 149.75 L314.64 150.05 L315.29 150.36 L315.93 150.66 L316.58 150.96 L317.22 151.26 L317.87 151.55 L318.51 151.85 L319.16 152.14 L319.80 152.43 L320.45 152.72 L321.10 153.00 L321.74 153.29 L322.39 153.57 L323.03 153.86 L323.68 154.14 L324.32 154.42 L324.97 154.70 L325.61 154.97 L326.26 155.25 L326.90 155.52 L327.55 155.79 L328.20 156.06 L328.84 156.33 L329.49 156.60 L330.13 156.86 L330.78 157.13 L331.42 157.39 L332.07 157.65 L332.71 157.91 L333.36 158.17 L334.00 158.43 L334.65 158.69 L335.30 158.94 L335.94 159.19 L336.59 159.45 L337.23 159.70 L337.88 159.95 L338.52 160.19 L339.17 160.44 L339.81 160.69 L340.46 160.93 L341.11 161.17 L341.75 161.42 L342.40 161.66 L343.04 161.90 L343.69 162.13 L344.33 162.37 L344.98 162.61 L345.62 162.84 L346.27 163.07 L346.91 163.31 L347.56 163.54 L348.21 163.77 L348.85 164.00 L349.50 164.22 L350.14 164.45 L350.79 164.68 L351.43 164.90 L352.08 165.12 L352.72 165.34 L353.37 165.57 L354.01 165.79 L354.66 166.00 L355.31 166.22 L355.95 166.44 L356.60 166.65 L357.24 166.87 L357.89 167.08 L358.53 167.29 L359.18 167.51 L359.82 167.72 L360.47 167.93 L361.11 168.14 L361.76 168.34 L362.41 168.55 L363.05 168.76 L363.70 168.96 L364.34 169.16 L364.99 169.37 L365.63 169.57 L366.28 169.77 L366.92 169.97 L367.57 170.17 L368.22 170.37 L368.86 170.56 L369.51 170.76 L370.15 170.96 L370.80 171.15 L371.44 171.34 L372.09 171.54 L372.73 171.73 L373.38 171.92 L374.02 172.11 L374.67 172.30 L375.32 172.49 L375.96 172.68 L376.61 172.86 L377.25 173.05 L377.90 173.24 L378.54 173.42 L379.19 173.60 L379.83 173.79 L380.48 173.97 L381.12 174.15 L381.77 174.33 L382.42 174.51 L383.06 174.69 L383.71 174.87 L384.35 175.05 L385.00 175.22 L385.64 175.40 L386.29 175.57 L386.93 175.75 L387.58 175.92 L388.23 176.09 L388.87 176.27 L389.52 176.44 L390.16 176.61 L390.81 176.78 L391.45 176.95 L392.10 177.12 L392.74 177.29 L393.39 177.45 L394.03 177.62 L394.68 177.79 L395.33 177.95 L395.97 178.12 L396.62 178.28 L397.26 178.44 L397.91 178.61 L398.55 178.77 L399.20 178.93 L399.84 179.09 L400.49 179.25 L401.13 179.41 L401.78 179.57 L402.43 179.73 L403.07 179.88 L403.72 180.04 L404.36 180.20 L405.01 180.35 L405.65 180.51 L406.30 180.66 L406.94 180.82 L407.59 180.97 L408.23 181.12 L408.88 181.27 L409.53 181.43 L410.17 181.58 L410.82 181.73 L411.46 181.88 L412.11 182.03 L412.75 182.17 L413.40 182.32 L414.04 182.47 L414.69 182.62 L415.34 182.76 L415.98 182.91 L416.63 183.05 L417.27 183.20 L417.92 183.34 L418.56 183.49 L419.21 183.63 L419.85 183.77 L420.50 183.91 L421.14 184.06 L421.79 184.20 L422.44 184.34 L423.08 184.48 L423.73 184.62 L424.37 184.75 L425.02 184.89 L425.66 185.03 L426.31 185.17 L426.95 185.30 L427.60 185.44 L428.24 185.58 L428.89 185.71 L429.54 185.85 L430.18 185.98 L430.83 186.12 L431.47 186.25 L432.12 186.38 L432.76 186.51 L433.41 186.65 L434.05 186.78 L434.70 186.91 L435.34 187.04 L435.99 187.17 L436.64 187.30 L437.28 187.43 L437.93 187.56 L438.57 187.68 L439.22 187.81 L439.86 187.94 L440.51 188.07 L441.15 188.19 L441.80 188.32 L442.45 188.44 L443.09 188.57 L443.74 188.69 L444.38 188.82 L445.03 188.94 L445.67 189.07 L446.32 189.19 L446.96 189.31 L447.61 189.43 L448.25 189.56 L448.90 189.68" fill="none" stroke="#3d3d99" stroke-width="1"/>
<g fill="#ff0000"><circle cx="193.60" cy="12.67" r="2.45"/><circle cx="196.83" cy="21.61" r="2.45"/><circle cx="203.30" cy="37.45" r="2.45"/><circle cx="209.76" cy="51.05" r="2.45"/><circle cx="216.22" cy="62.89" r="2.45"/><circle cx="222.69" cy="73.30" r="2.45"/><circle cx="229.15" cy="82.54" r="2.45"/><circle cx="235.61" cy="90.81" r="2.45"/><circle cx="242.08" cy="98.25" r="2.45"/><circle cx="248.54" cy="105.01" r="2.45"/><circle cx="255.00" cy="111.16" r="2.45"/><circle cx="261.47" cy="116.80" r="2.45"/><circle cx="267.93" cy="121.98" r="2.45"/><circle cx="274.39" cy="126.77" r="2.45"/><circle cx="280.86" cy="131.21" r="2.45"/><circle cx="287.32" cy="135.34" r="2.45"/><circle cx="293.78" cy="139.20" r="2.45"/><circle cx="300.24" cy="142.80" r="2.45"/><circle cx="306.71" cy="146.18" r="2.45"/><circle cx="313.17" cy="149.36" r="2.45"/><circle cx="319.63" cy="152.35" r="2.45"/><circle cx="326.10" cy="155.18" r="2.45"/><circle cx="332.56" cy="157.85" r="2.45"/><circle cx="339.02" cy="160.39" r="2.45"/><circle cx="345.49" cy="162.79" r="2.45"/><circle cx="351.95" cy="165.08" r="2.45"/><circle cx="358.41" cy="167.26" r="2.45"/><circle cx="364.88" cy="169.33" r="2.45"/><circle cx="371.34" cy="171.31" r="2.45"/><circle cx="377.80" cy="173.21" r="2.45"/><circle cx="384.27" cy="175.02" r="2.45"/><circle cx="390.73" cy="176.76" r="2.45"/><circle cx="397.19" cy="178.43" r="2.45"/><circle cx="403.66" cy="180.03" r="2.45"/><circle cx="410.12" cy="181.56" r="2.45"/><circle cx="416.58" cy="183.04" r="2.45"/><circle cx="423.05" cy="184.47" r="2.45"/><circle cx="429.51" cy="185.84" r="2.45"/><circle cx="435.97" cy="187.17" r="2.45"/><circle cx="442.44" cy="188.44" r="2.45"/><circle cx="445.67" cy="189.07" r="2.45"/><circle cx="448.90" cy="189.68" r="2.45"/><path d="M189.58 8.50 A2.45 2.45 0 1 1 194.42 8.50 Z"/></g>
</g>
<rect x="125.5" y="7.5" width="330.0" height="233.0" fill="none" stroke="#000" stroke-opacity="0.59" stroke-width="1"/>
<g stroke="#000" stroke-opacity="0.56" stroke-width="1" fill="none">
<line x1="132.35" y1="240.00" x2="132.35" y2="236.00"/>
<line x1="132.35" y1="8.00" x2="132.35" y2="12.00"/>
<line x1="195.73" y1="240.00" x2="195.73" y2="236.00"/>
<line x1="195.73" y1="8.00" x2="195.73" y2="12.00"/>
<line x1="259.11" y1="240.00" x2="259.11" y2="236.00"/>
<line x1="259.11" y1="8.00" x2="259.11" y2="12.00"/>
<line x1="322.49" y1="240.00" x2="322.49" y2="236.00"/>
<line x1="322.49" y1="8.00" x2="322.49" y2="12.00"/>
<line x1="385.87" y1="240.00" x2="385.87" y2="236.00"/>
<line x1="385.87" y1="8.00" x2="385.87" y2="12.00"/>
<line x1="449.25" y1="240.00" x2="449.25" y2="236.00"/>
<line x1="449.25" y1="8.00" x2="449.25" y2="12.00"/>
<line x1="126.00" y1="234.70" x2="130.00" y2="234.70"/>
<line x1="455.00" y1="234.70" x2="451.00" y2="234.70"/>
<line x1="126.00" y1="190.56" x2="130.00" y2="190.56"/>
<line x1="455.00" y1="190.56" x2="451.00" y2="190.56"/>
<line x1="126.00" y1="146.42" x2="130.00" y2="146.42"/>
<line x1="455.00" y1="146.42" x2="451.00" y2="146.42"/>
<line x1="126.00" y1="102.28" x2="130.00" y2="102.28"/>
<line x1="455.00" y1="102.28" x2="451.00" y2="102.28"/>
<line x1="126.00" y1="58.14" x2="130.00" y2="58.14"/>
<line x1="455.00" y1="58.14" x2="451.00" y2="58.14"/>
<line x1="126.00" y1="14.00" x2="130.00" y2="14.00"/>
<line x1="455.00" y1="14.00" x2="451.00" y2="14.00"/>
</g>
<g stroke="#000" stroke-opacity="0.5" stroke-width="1" fill="none">
<line x1="148.19" y1="240.00" x2="148.19" y2="237.90"/>
<line x1="148.19" y1="8.00" x2="148.19" y2="10.10"/>
<line x1="164.04" y1="240.00" x2="164.04" y2="237.90"/>
<line x1="164.04" y1="8.00" x2="164.04" y2="10.10"/>
<line x1="179.88" y1="240.00" x2="179.88" y2="237.90"/>
<line x1="179.88" y1="8.00" x2="179.88" y2="10.10"/>
<line x1="211.57" y1="240.00" x2="211.57" y2="237.90"/>
<line x1="211.57" y1="8.00" x2="211.57" y2="10.10"/>
<line x1="227.42" y1="240.00" x2="227.42" y2="237.90"/>
<line x1="227.42" y1="8.00" x2="227.42" y2="10.10"/>
<line x1="243.26" y1="240.00" x2="243.26" y2="237.90"/>
<line x1="243.26" y1="8.00" x2="243.26" y2="10.10"/>
<line x1="274.95" y1="240.00" x2="274.95" y2="237.90"/>
<line x1="274.95" y1="8.00" x2="274.95" y2="10.10"/>
<line x1="290.80" y1="240.00" x2="290.80" y2="237.90"/>
<line x1="290.80" y1="8.00" x2="290.80" y2="10.10"/>
<line x1="306.64" y1="240.00" x2="306.64" y2="237.90"/>
<line x1="306.64" y1="8.00" x2="306.64" y2="10.10"/>
<line x1="338.33" y1="240.00" x2="338.33" y2="237.90"/>
<line x1="338.33" y1="8.00" x2="338.33" y2="10.10"/>
<line x1="354.18" y1="240.00" x2="354.18" y2="237.90"/>
<line x1="354.18" y1="8.00" x2="354.18" y2="10.10"/>
<line x1="370.02" y1="240.00" x2="370.02" y2="237.90"/>
<line x1="370.02" y1="8.00" x2="370.02" y2="10.10"/>
<line x1="401.72" y1="240.00" x2="401.72" y2="237.90"/>
<line x1="401.72" y1="8.00" x2="401.72" y2="10.10"/>
<line x1="417.56" y1="240.00" x2="417.56" y2="237.90"/>
<line x1="417.56" y1="8.00" x2="417.56" y2="10.10"/>
<line x1="433.40" y1="240.00" x2="433.40" y2="237.90"/>
<line x1="433.40" y1="8.00" x2="433.40" y2="10.10"/>
<line x1="126.00" y1="223.66" x2="128.10" y2="223.66"/>
<line x1="455.00" y1="223.66" x2="452.90" y2="223.66"/>
<line x1="126.00" y1="212.63" x2="128.10" y2="212.63"/>
<line x1="455.00" y1="212.63" x2="452.90" y2="212.63"/>
<line x1="126.00" y1="201.59" x2="128.10" y2="201.59"/>
<line x1="455.00" y1="201.59" x2="452.90" y2="201.59"/>
<line x1="126.00" y1="179.52" x2="128.10" y2="179.52"/>
<line x1="455.00" y1="179.52" x2="452.90" y2="179.52"/>
<line x1="126.00" y1="168.49" x2="128.10" y2="168.49"/>
<line x1="455.00" y1="168.49" x2="452.90" y2="168.49"/>
<line x1="126.00" y1="157.45" x2="128.10" y2="157.45"/>
<line x1="455.00" y1="157.45" x2="452.90" y2="157.45"/>
<line x1="126.00" y1="135.38" x2="128.10" y2="135.38"/>
<line x1="455.00" y1="135.38" x2="452.90" y2="135.38"/>
<line x1="126.00" y1="124.35" x2="128.10" y2="124.35"/>
<line x1="455.00" y1="124.35" x2="452.90" y2="124.35"/>
<line x1="126.00" y1="113.31" x2="128.10" y2="113.31"/>
<line x1="455.00" y1="113.31" x2="452.90" y2="113.31"/>
<line x1="126.00" y1="91.24" x2="128.10" y2="91.24"/>
<line x1="455.00" y1="91.24" x2="452.90" y2="91.24"/>
<line x1="126.00" y1="80.21" x2="128.10" y2="80.21"/>
<line x1="455.00" y1="80.21" x2="452.90" y2="80.21"/>
<line x1="126.00" y1="69.18" x2="128.10" y2="69.18"/>
<line x1="455.00" y1="69.18" x2="452.90" y2="69.18"/>
<line x1="126.00" y1="47.10" x2="128.10" y2="47.10"/>
<line x1="455.00" y1="47.10" x2="452.90" y2="47.10"/>
<line x1="126.00" y1="36.07" x2="128.10" y2="36.07"/>
<line x1="455.00" y1="36.07" x2="452.90" y2="36.07"/>
<line x1="126.00" y1="25.03" x2="128.10" y2="25.03"/>
<line x1="455.00" y1="25.03" x2="452.90" y2="25.03"/>
</g>
<text transform="translate(60.60,20.50) scale(1,1.06)" text-anchor="end" font-size="19">1.2</text><path d="M65.55 10.70L74.55 19.70M65.55 19.70L74.55 10.70" stroke="#000" stroke-width="1.05" fill="none"/><text transform="translate(79.80,20.50) scale(1,1.06)" font-size="19">10</text><path d="M99.90 8.90L106.90 8.90" stroke="#000" stroke-width="1.1" fill="none"/><text transform="translate(108.10,13.70) scale(0.94,1.14)" font-size="13.3">12</text>
<text transform="translate(60.60,64.64) scale(1,1.06)" text-anchor="end" font-size="19">1.</text><path d="M65.55 54.84L74.55 63.84M65.55 63.84L74.55 54.84" stroke="#000" stroke-width="1.05" fill="none"/><text transform="translate(79.80,64.64) scale(1,1.06)" font-size="19">10</text><path d="M99.90 53.04L106.90 53.04" stroke="#000" stroke-width="1.1" fill="none"/><text transform="translate(108.10,57.84) scale(0.94,1.14)" font-size="13.3">12</text>
<text transform="translate(60.60,108.78) scale(1,1.06)" text-anchor="end" font-size="19">8.</text><path d="M65.55 98.98L74.55 107.98M65.55 107.98L74.55 98.98" stroke="#000" stroke-width="1.05" fill="none"/><text transform="translate(79.80,108.78) scale(1,1.06)" font-size="19">10</text><path d="M99.90 97.18L106.90 97.18" stroke="#000" stroke-width="1.1" fill="none"/><text transform="translate(108.10,101.98) scale(0.94,1.14)" font-size="13.3">13</text>
<text transform="translate(60.60,152.92) scale(1,1.06)" text-anchor="end" font-size="19">6.</text><path d="M65.55 143.12L74.55 152.12M65.55 152.12L74.55 143.12" stroke="#000" stroke-width="1.05" fill="none"/><text transform="translate(79.80,152.92) scale(1,1.06)" font-size="19">10</text><path d="M99.90 141.32L106.90 141.32" stroke="#000" stroke-width="1.1" fill="none"/><text transform="translate(108.10,146.12) scale(0.94,1.14)" font-size="13.3">13</text>
<text transform="translate(60.60,197.06) scale(1,1.06)" text-anchor="end" font-size="19">4.</text><path d="M65.55 187.26L74.55 196.26M65.55 196.26L74.55 187.26" stroke="#000" stroke-width="1.05" fill="none"/><text transform="translate(79.80,197.06) scale(1,1.06)" font-size="19">10</text><path d="M99.90 185.46L106.90 185.46" stroke="#000" stroke-width="1.1" fill="none"/><text transform="translate(108.10,190.26) scale(0.94,1.14)" font-size="13.3">13</text>
<text transform="translate(60.60,241.20) scale(1,1.06)" text-anchor="end" font-size="19">2.</text><path d="M65.55 231.40L74.55 240.40M65.55 240.40L74.55 231.40" stroke="#000" stroke-width="1.05" fill="none"/><text transform="translate(79.80,241.20) scale(1,1.06)" font-size="19">10</text><path d="M99.90 229.60L106.90 229.60" stroke="#000" stroke-width="1.1" fill="none"/><text transform="translate(108.10,234.40) scale(0.94,1.14)" font-size="13.3">13</text>
<text transform="translate(132.45,263.8) scale(1,1.06)" text-anchor="middle" font-size="19">0</text>
<text transform="translate(175.68,263.80) scale(1,1.06)" text-anchor="end" font-size="19">2.</text><path d="M180.63 254.00L189.63 263.00M180.63 263.00L189.63 254.00" stroke="#000" stroke-width="1.05" fill="none"/><text transform="translate(194.88,263.80) scale(1,1.06)" font-size="19">10</text><path d="M214.98 252.20L221.98 252.20" stroke="#000" stroke-width="1.1" fill="none"/><text transform="translate(223.18,257.00) scale(0.94,1.14)" font-size="13.3">8</text>
<text transform="translate(239.06,263.80) scale(1,1.06)" text-anchor="end" font-size="19">4.</text><path d="M244.01 254.00L253.01 263.00M244.01 263.00L253.01 254.00" stroke="#000" stroke-width="1.05" fill="none"/><text transform="translate(258.26,263.80) scale(1,1.06)" font-size="19">10</text><path d="M278.36 252.20L285.36 252.20" stroke="#000" stroke-width="1.1" fill="none"/><text transform="translate(286.56,257.00) scale(0.94,1.14)" font-size="13.3">8</text>
<text transform="translate(302.44,263.80) scale(1,1.06)" text-anchor="end" font-size="19">6.</text><path d="M307.39 254.00L316.39 263.00M307.39 263.00L316.39 254.00" stroke="#000" stroke-width="1.05" fill="none"/><text transform="translate(321.64,263.80) scale(1,1.06)" font-size="19">10</text><path d="M341.74 252.20L348.74 252.20" stroke="#000" stroke-width="1.1" fill="none"/><text transform="translate(349.94,257.00) scale(0.94,1.14)" font-size="13.3">8</text>
<text transform="translate(365.82,263.80) scale(1,1.06)" text-anchor="end" font-size="19">8.</text><path d="M370.77 254.00L379.77 263.00M370.77 263.00L379.77 254.00" stroke="#000" stroke-width="1.05" fill="none"/><text transform="translate(385.02,263.80) scale(1,1.06)" font-size="19">10</text><path d="M405.12 252.20L412.12 252.20" stroke="#000" stroke-width="1.1" fill="none"/><text transform="translate(413.32,257.00) scale(0.94,1.14)" font-size="13.3">8</text>
<text transform="translate(429.20,263.80) scale(1,1.06)" text-anchor="end" font-size="19">1.</text><path d="M434.15 254.00L443.15 263.00M434.15 263.00L443.15 254.00" stroke="#000" stroke-width="1.05" fill="none"/><text transform="translate(448.40,263.80) scale(1,1.06)" font-size="19">10</text><path d="M468.50 252.20L475.50 252.20" stroke="#000" stroke-width="1.1" fill="none"/><text transform="translate(476.70,257.00) scale(0.94,1.14)" font-size="13.3">7</text>
<text x="290.8" y="300" text-anchor="middle" font-size="19" xml:space="preserve"><tspan font-style="italic">ν</tspan> (HZ)</text>
<g transform="translate(19.2,151.8) rotate(-90)" stroke="#000" stroke-width="0.12"><text transform="translate(-0.6,0) scale(1.1,1)" font-size="19">Ω</text><g transform="translate(15.6,2.4) scale(1.22,1)"><text x="0" y="0" font-size="13.3">gw</text></g><text transform="translate(35.2,0) scale(1.09,1)" font-size="21" font-style="italic">h</text><text x="47.6" y="-8.9" font-size="13.5">2</text></g>
</svg>
</body></html>
